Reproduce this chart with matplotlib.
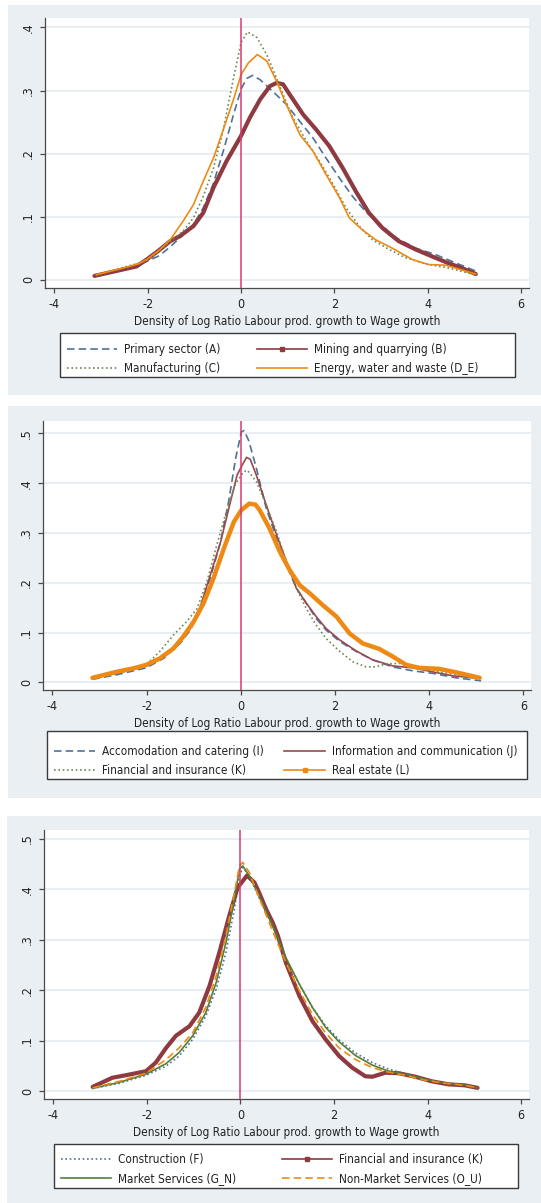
import matplotlib
matplotlib.use("Agg")
import matplotlib.pyplot as plt
from matplotlib.patches import Rectangle
from matplotlib.lines import Line2D

plt.rcParams['font.family'] = ['DejaVu Sans']
plt.rcParams['font.stretch'] = 'condensed'

# ---------------- data ----------------
XLABEL = "Density of Log Ratio Labour prod. growth to Wage growth"
XTICKS = [-4, -2, 0, 2, 4, 6]
YTICKS_P1 = [0, 0.1, 0.2, 0.3, 0.4]
YTICKLABELS_P1 = ["0", ".1", ".2", ".3", ".4"]
YTICKS_P23 = [0, 0.1, 0.2, 0.3, 0.4, 0.5]
YTICKLABELS_P23 = ["0", ".1", ".2", ".3", ".4", ".5"]

# Panel 1
primary_x = [-3.1, -2.6, -2.2, -2.02, -1.75, -1.52, -1.24, -1.02, -0.81, -0.59, -0.38, -0.16, 0.0, 0.12, 0.25, 0.41,
             0.69, 0.97, 1.26, 1.54, 1.82, 2.11, 2.39, 2.67, 3.03, 3.31, 3.74, 4.16, 4.52, 5.05]
primary_y = [0.007, 0.016, 0.025, 0.029, 0.038, 0.052, 0.071, 0.087, 0.114, 0.153, 0.204, 0.262, 0.302, 0.319, 0.324, 0.317,
             0.298, 0.278, 0.251, 0.225, 0.193, 0.161, 0.132, 0.108, 0.085, 0.067, 0.050, 0.040, 0.029, 0.013]
mining_x = [-3.14, -2.6, -2.24, -2.02, -1.75, -1.52, -1.31, -1.02, -0.81, -0.59, -0.31, 0.0, 0.19, 0.41, 0.62, 0.76,
            0.9, 1.04, 1.33, 1.61, 1.89, 2.18, 2.46, 2.74, 3.03, 3.38, 3.74, 4.09, 4.45, 4.73, 5.03]
mining_y = [0.006, 0.015, 0.021, 0.032, 0.047, 0.061, 0.069, 0.085, 0.106, 0.146, 0.188, 0.228, 0.257, 0.286, 0.307, 0.312,
            0.310, 0.294, 0.262, 0.238, 0.212, 0.177, 0.140, 0.106, 0.082, 0.061, 0.048, 0.037, 0.026, 0.0185, 0.009]
manuf_x = [-3.1, -2.6, -2.2, -2.0, -1.75, -1.52, -1.24, -1.02, -0.81, -0.59, -0.38, -0.16, 0.0, 0.14, 0.34, 0.55,
           0.76, 0.90, 1.11, 1.40, 1.68, 1.96, 2.25, 2.53, 2.82, 3.17, 3.52, 3.95, 4.38, 5.01]
manuf_y = [0.007, 0.018, 0.026, 0.031, 0.045, 0.061, 0.077, 0.098, 0.132, 0.177, 0.238, 0.320, 0.376, 0.393, 0.384, 0.357,
           0.320, 0.294, 0.257, 0.220, 0.188, 0.153, 0.114, 0.085, 0.063, 0.048, 0.035, 0.025, 0.0196, 0.008]
energy_x = [-3.1, -2.6, -2.2, -2.02, -1.75, -1.52, -1.24, -1.02, -0.81, -0.59, -0.38, -0.16, 0.0, 0.16, 0.35, 0.55,
            0.76, 0.97, 1.26, 1.54, 1.82, 2.11, 2.32, 2.60, 2.89, 3.24, 3.67, 4.02, 4.38, 4.66, 5.03]
energy_y = [0.008, 0.017, 0.025, 0.032, 0.047, 0.063, 0.093, 0.119, 0.156, 0.193, 0.238, 0.286, 0.325, 0.344, 0.357, 0.347,
            0.315, 0.278, 0.230, 0.204, 0.167, 0.130, 0.098, 0.079, 0.063, 0.050, 0.032, 0.024, 0.023, 0.017, 0.009]

# Panel 2
accom_x = [-3.15, -2.64, -2.01, -1.64, -1.29, -1.07, -0.86, -0.65, -0.43, -0.26, -0.11, 0.01, 0.07, 0.17, 0.33, 0.54,
           0.76, 0.97, 1.18, 1.39, 1.60, 1.81, 2.10, 2.45, 2.80, 3.22, 3.65, 4.07, 4.57, 5.10]
accom_y = [0.006, 0.015, 0.029, 0.048, 0.078, 0.105, 0.148, 0.209, 0.282, 0.363, 0.450, 0.503, 0.506, 0.485, 0.430, 0.349,
           0.289, 0.235, 0.189, 0.159, 0.128, 0.105, 0.082, 0.062, 0.045, 0.031, 0.023, 0.018, 0.009, 0.003]
info_x = [-3.15, -2.64, -2.01, -1.64, -1.29, -1.07, -0.86, -0.65, -0.43, -0.22, -0.08, 0.01, 0.12, 0.20, 0.33, 0.54,
          0.76, 0.97, 1.18, 1.39, 1.60, 1.81, 2.10, 2.45, 2.80, 3.22, 3.65, 4.07, 4.50, 5.06]
info_y = [0.008, 0.018, 0.032, 0.050, 0.082, 0.112, 0.152, 0.215, 0.282, 0.363, 0.416, 0.433, 0.452, 0.448, 0.416, 0.356,
          0.296, 0.242, 0.189, 0.159, 0.132, 0.108, 0.085, 0.063, 0.045, 0.033, 0.029, 0.021, 0.013, 0.008]
fin2_x = [-3.15, -2.64, -2.01, -1.72, -1.43, -1.15, -0.93, -0.72, -0.51, -0.29, -0.11, 0.06, 0.14, 0.33, 0.54, 0.76,
          0.97, 1.18, 1.39, 1.60, 1.81, 2.10, 2.38, 2.66, 2.87, 3.08, 3.37, 3.65, 4.07, 4.57, 5.06]
fin2_y = [0.008, 0.018, 0.035, 0.062, 0.095, 0.122, 0.148, 0.202, 0.276, 0.349, 0.399, 0.423, 0.426, 0.403, 0.356, 0.302,
          0.242, 0.189, 0.148, 0.115, 0.088, 0.062, 0.041, 0.031, 0.031, 0.037, 0.038, 0.031, 0.023, 0.015, 0.007]
realest_x = [-3.15, -2.64, -2.28, -2.01, -1.72, -1.43, -1.22, -1.0, -0.79, -0.58, -0.36, -0.15, 0.01, 0.18, 0.31, 0.40,
             0.61, 0.83, 1.04, 1.25, 1.46, 1.74, 2.03, 2.31, 2.59, 2.94, 3.22, 3.51, 3.79, 4.21, 4.57, 5.07]
realest_y = [0.009, 0.021, 0.028, 0.035, 0.048, 0.068, 0.092, 0.122, 0.159, 0.209, 0.269, 0.322, 0.346, 0.359, 0.357, 0.346,
             0.309, 0.262, 0.225, 0.195, 0.179, 0.155, 0.132, 0.098, 0.078, 0.067, 0.052, 0.035, 0.029, 0.027, 0.020, 0.009]

# Panel 3
p3_x = [-3.16, -2.59, -2.02, -1.59, -1.31, -1.02, -0.74, -0.52, -0.31, -0.13, -0.02, 0.05, 0.19, 0.40,
        0.69, 0.97, 1.26, 1.54, 1.82, 2.11, 2.46, 2.82, 3.17, 3.52, 3.95, 4.38, 4.80, 5.07]
constr_y = [0.006, 0.016, 0.032, 0.050, 0.070, 0.103, 0.149, 0.202, 0.275, 0.360, 0.426, 0.443, 0.426, 0.383,
            0.327, 0.263, 0.212, 0.166, 0.130, 0.102, 0.076, 0.057, 0.044, 0.035, 0.024, 0.016, 0.013, 0.006]
market_y = [0.006, 0.018, 0.034, 0.055, 0.077, 0.110, 0.156, 0.215, 0.294, 0.380, 0.440, 0.446, 0.426, 0.387,
            0.327, 0.265, 0.212, 0.166, 0.127, 0.098, 0.071, 0.052, 0.040, 0.034, 0.024, 0.016, 0.013, 0.007]
nonmarket_y = [0.007, 0.020, 0.036, 0.063, 0.086, 0.116, 0.166, 0.228, 0.308, 0.393, 0.446, 0.453, 0.433, 0.383,
               0.317, 0.255, 0.199, 0.152, 0.116, 0.086, 0.063, 0.047, 0.038, 0.032, 0.022, 0.016, 0.012, 0.007]
fin3_x = [-3.16, -2.74, -2.45, -2.02, -1.81, -1.59, -1.38, -1.09, -0.88, -0.66, -0.45, -0.24, -0.06, 0.14, 0.30, 0.40,
          0.55, 0.69, 0.80, 0.97, 1.26, 1.54, 1.82, 2.11, 2.39, 2.67, 2.82, 3.10, 3.38, 3.74, 4.09, 4.45, 4.80, 5.07]
fin3_y = [0.009, 0.027, 0.032, 0.040, 0.057, 0.086, 0.110, 0.129, 0.156, 0.209, 0.275, 0.347, 0.403, 0.427, 0.413, 0.393,
          0.360, 0.334, 0.308, 0.255, 0.189, 0.139, 0.103, 0.070, 0.047, 0.030, 0.029, 0.037, 0.036, 0.029, 0.020, 0.014,
          0.012, 0.007]

# ---------------- styles ----------------
W, H = 541, 1203
BG = '#e9eff3'
GRID = '#e8eef2'
BLUE = '#4f7298'
MAROON = '#8e3a40'
MAROON_THIN = '#9a4850'
GREEN = '#6c8c4c'
GREEN_SOLID = '#557f36'
ORANGE = '#ee8a14'
VLINE = '#d93a6c'
FS = 8.5
TFS = 9.0

DASH = (0, (4.5, 2.5))
DOT = (0, (1, 1.6))

fig = plt.figure(figsize=(W / 100, H / 100), dpi=100)
fig.patch.set_facecolor('white')


def fx(px):
    return px / W


def fy(py):
    return 1 - py / H


def bg_rect(x0, y0, x1, y1):
    fig.add_artist(Rectangle((fx(x0), fy(y1)), fx(x1 - x0), (y1 - y0) / H,
                             transform=fig.transFigure, facecolor=BG, edgecolor='none', zorder=-10))


def legend_box(x0, y0, x1, y1):
    fig.add_artist(Rectangle((fx(x0), fy(y1)), fx(x1 - x0), (y1 - y0) / H,
                             transform=fig.transFigure, facecolor='white', edgecolor='#3a3a3a',
                             linewidth=1.0, zorder=1))


def make_axes(left, top, right, bottom, xlim, ylim, yticks, yticklabels):
    ax = fig.add_axes([fx(left), fy(bottom), fx(right - left), (bottom - top) / H])
    ax.set_facecolor('white')
    ax.set_xlim(*xlim)
    ax.set_ylim(*ylim)
    ax.set_xticks(XTICKS)
    ax.set_xticklabels([str(t) for t in XTICKS])
    ax.set_yticks(yticks)
    ax.set_yticklabels(yticklabels, rotation=90, va='center')
    for s in ['top', 'right']:
        ax.spines[s].set_visible(False)
    for s in ['left', 'bottom']:
        ax.spines[s].set_color('#4a4a4a')
        ax.spines[s].set_linewidth(0.9)
    ax.tick_params(axis='both', direction='out', length=3.8, width=0.9, color='#4a4a4a',
                   labelsize=TFS, labelcolor='#222222', pad=3.5)
    ax.yaxis.grid(True, color=GRID, linewidth=1.4)
    ax.set_axisbelow(True)
    ax.set_xlabel(XLABEL, fontsize=FS, color='#222222', labelpad=2.5)
    ax.axvline(0, color=VLINE, linewidth=1.1, zorder=10)
    return ax


def legends(col1, col2, x1, x2, ytop, hlen):
    kw = dict(loc='upper left', frameon=False, borderaxespad=0, borderpad=0, fontsize=FS,
              handlelength=hlen, handletextpad=0.6, labelspacing=0.55, numpoints=1)
    for items, xx in ((col1, x1), (col2, x2)):
        lg = fig.legend(handles=[h for h, _ in items], labels=[l for _, l in items],
                        bbox_to_anchor=(fx(xx), fy(ytop)), **kw)
        lg.set_zorder(5)
        for t in lg.get_texts():
            t.set_color('#222222')


# ---------------- Panel 1 ----------------
bg_rect(8, 5, 541, 395)
ax1 = make_axes(45, 18, 529, 288, (-4.2, 6.17), (-0.0132, 0.415), YTICKS_P1, YTICKLABELS_P1)
ax1.plot(primary_x, primary_y, color=BLUE, lw=1.2, linestyle=DASH)
ax1.plot(mining_x, mining_y, color=MAROON, lw=3.0, solid_capstyle='round', solid_joinstyle='round')
ax1.plot(manuf_x, manuf_y, color=GREEN, lw=1.2, linestyle=DOT)
ax1.plot(energy_x, energy_y, color=ORANGE, lw=1.2)
legend_box(60, 333, 515, 377)
legends([(Line2D([], [], color=BLUE, lw=1.2, linestyle=DASH), 'Primary sector (A)'),
         (Line2D([], [], color=GREEN, lw=1.2, linestyle=DOT), 'Manufacturing (C)')],
        [(Line2D([], [], color=MAROON, lw=1.2, marker='s', ms=2.5), 'Mining and quarrying (B)'),
         (Line2D([], [], color=ORANGE, lw=1.2), 'Energy, water and waste (D_E)')],
        67, 257, 343, 4.2)

# ---------------- Panel 2 ----------------
bg_rect(8, 406, 541, 798)
ax2 = make_axes(43, 421, 531, 690, (-4.2, 6.16), (-0.0155, 0.525), YTICKS_P23, YTICKLABELS_P23)
ax2.plot(accom_x, accom_y, color=BLUE, lw=1.2, linestyle=DASH)
ax2.plot(info_x, info_y, color=MAROON_THIN, lw=1.2)
ax2.plot(fin2_x, fin2_y, color=GREEN, lw=1.2, linestyle=DOT)
ax2.plot(realest_x, realest_y, color=ORANGE, lw=3.2, solid_capstyle='round', solid_joinstyle='round')
legend_box(47, 731, 527, 779)
legends([(Line2D([], [], color=BLUE, lw=1.2, linestyle=DASH), 'Accomodation and catering (I)'),
         (Line2D([], [], color=GREEN, lw=1.2, linestyle=DOT), 'Financial and insurance (K)')],
        [(Line2D([], [], color=MAROON_THIN, lw=1.2), 'Information and communication (J)'),
         (Line2D([], [], color=ORANGE, lw=1.2, marker='s', ms=2.5), 'Real estate (L)')],
        54, 284, 745, 3.5)

# ---------------- Panel 3 ----------------
bg_rect(7, 816, 541, 1203)
ax3 = make_axes(44, 830, 529, 1099, (-4.2, 6.17), (-0.015, 0.517), YTICKS_P23, YTICKLABELS_P23)
ax3.plot(p3_x, constr_y, color=BLUE, lw=1.2, linestyle=DOT)
ax3.plot(fin3_x, fin3_y, color=MAROON, lw=3.0, solid_capstyle='round', solid_joinstyle='round')
ax3.plot(p3_x, market_y, color=GREEN_SOLID, lw=1.2)
ax3.plot(p3_x, nonmarket_y, color=ORANGE, lw=1.2, linestyle=DASH)
legend_box(54, 1144, 518, 1188)
legends([(Line2D([], [], color=BLUE, lw=1.2, linestyle=DOT), 'Construction (F)'),
         (Line2D([], [], color=GREEN_SOLID, lw=1.2), 'Market Services (G_N)')],
        [(Line2D([], [], color=MAROON, lw=1.2, marker='s', ms=2.5), 'Financial and insurance (K)'),
         (Line2D([], [], color=ORANGE, lw=1.2, linestyle=DASH), 'Non-Market Services (O_U)')],
        61, 282, 1153, 4.2)

fig.savefig('out.png', dpi=100, facecolor=fig.get_facecolor())
